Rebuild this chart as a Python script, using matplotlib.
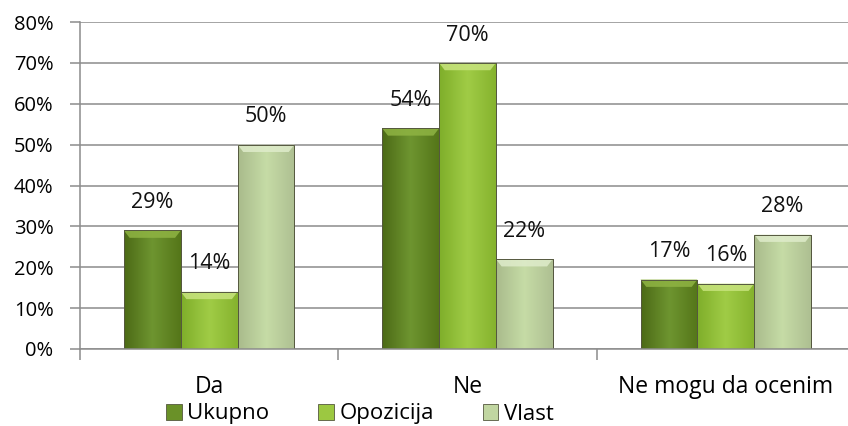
import matplotlib
matplotlib.use('Agg')
import matplotlib.pyplot as plt
import numpy as np
from matplotlib.colors import LinearSegmentedColormap
from matplotlib.patches import Rectangle, Polygon

plt.rcParams['font.family'] = ['Open Sans', 'DejaVu Sans']

categories = ['Da', 'Ne', 'Ne mogu da ocenim']
series = ['Ukupno', 'Opozicija', 'Vlast']
ukupno = [29, 54, 17]
opozicija = [14, 70, 16]
vlast = [50, 22, 28]
values = [ukupno, opozicija, vlast]

# horizontal shading (edge, middle, edge) and top bevel colour per series
shades = [
    (['#4c6a16', '#6e9530', '#557619'], '#8fb443'),
    (['#7fae2a', '#a0cc46', '#86b32e'], '#c8e47e'),
    (['#a9bb8c', '#c6dca6', '#aebf92'], '#dfeccb'),
]
legend_colors = ['#6a9128', '#9cc841', '#c1d6a1']

fig = plt.figure(figsize=(8.48, 4.26), dpi=100)
ax = fig.add_axes([80 / 848, 1 - 349 / 426, 775 / 848, 327 / 426])

width = 0.22
x = np.arange(len(categories)) + 0.5
grey = '#8c8c8c'

ax.set_xlim(0, 3)
ax.set_ylim(0, 80)
ax.set_yticks(range(0, 81, 10))
ax.set_yticklabels([f'{v}%' for v in range(0, 81, 10)])
ax.yaxis.grid(True, color=grey, linewidth=1.1)
ax.set_axisbelow(True)
ax.set_xticks([0, 1, 2, 3])
ax.set_xticklabels([])
ax.set_xticks(x, minor=True)
ax.set_xticklabels(categories, minor=True)
ax.tick_params(axis='x', which='minor', length=0, pad=19, labelsize=16.5)
ax.tick_params(axis='x', which='major', length=8, color=grey, width=1.1)
ax.tick_params(axis='y', length=7, color=grey, width=1.1, pad=12, labelsize=14.5)
for s in ['top', 'right']:
    ax.spines[s].set_visible(False)
for s in ['left', 'bottom']:
    ax.spines[s].set_color(grey)
    ax.spines[s].set_linewidth(1.1)

for i, (vals, (cols, topc)) in enumerate(zip(values, shades)):
    pos = x + (i - 1) * width
    bars = ax.bar(pos, vals, width, color=cols[1], edgecolor='#5a5a4a', linewidth=0.6, zorder=2)
    cmap = LinearSegmentedColormap.from_list(f's{i}', cols)
    grad = np.linspace(0, 1, 64).reshape(1, -1)
    for b, v in zip(bars, vals):
        x0, w, h = b.get_x(), b.get_width(), b.get_height()
        im = ax.imshow(grad, cmap=cmap, aspect='auto', extent=(x0, x0 + w, 0, h), zorder=2.1)
        im.set_clip_path(b)
        # top bevel
        bev = min(1.8, h * 0.3)
        ax.add_patch(Polygon([(x0, h), (x0 + w, h), (x0 + w * 0.9, h - bev), (x0 + w * 0.1, h - bev)],
                             closed=True, facecolor=topc, edgecolor='none', alpha=0.85, zorder=2.2))
        ax.add_patch(Rectangle((x0, 0), w, h, facecolor='none', edgecolor='#55583f',
                               linewidth=0.7, zorder=2.3))
        ax.annotate(f'{v}%', (x0 + w / 2, h), xytext=(0, 20), textcoords='offset points',
                    ha='center', va='center', fontsize=15.5, color='#111111')

ax.set_xlim(0, 3)
ax.set_ylim(0, 80)

handles = [Rectangle((0, 0), 1, 1, facecolor=c, edgecolor='#55583f', linewidth=0.6) for c in legend_colors]
fig.legend(handles, series, loc='center', bbox_to_anchor=(360 / 848, 1 - 414 / 426), ncol=3,
           frameon=False, fontsize=16, handlelength=0.7, handleheight=0.7, handletextpad=0.25,
           columnspacing=2.2, borderaxespad=0)

fig.savefig('out.png', dpi=100)
